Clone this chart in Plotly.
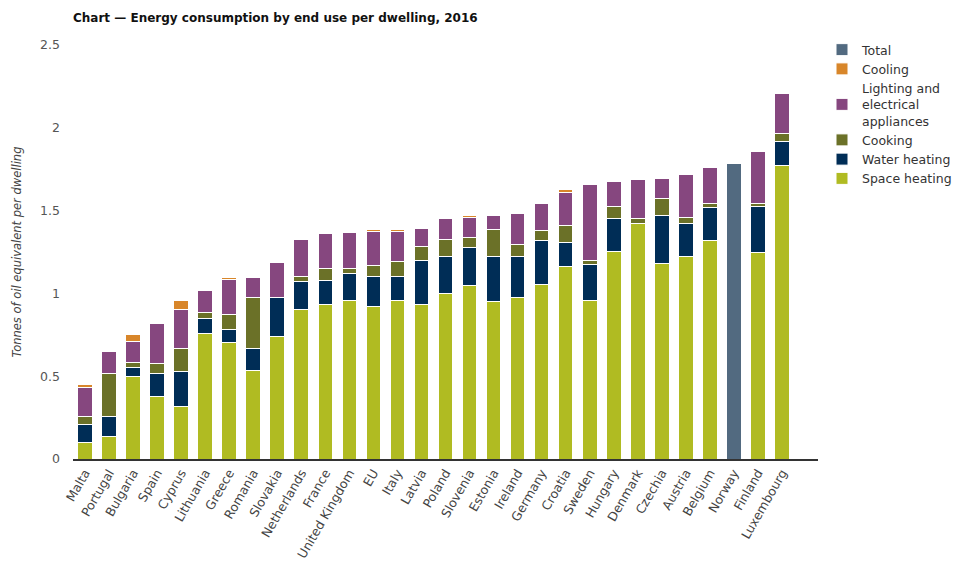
import plotly.graph_objects as go

# Countries, ordered by total consumption per dwelling
countries = [
    "Malta", "Portugal", "Bulgaria", "Spain", "Cyprus", "Lithuania", "Greece",
    "Romania", "Slovakia", "Netherlands", "France", "United Kingdom", "EU",
    "Italy", "Latvia", "Poland", "Slovenia", "Estonia", "Ireland", "Germany",
    "Croatia", "Sweden", "Hungary", "Denmark", "Czechia", "Austria", "Belgium",
    "Norway", "Finland", "Luxembourg",
]

# Tonnes of oil equivalent per dwelling, by end use (Norway only reports a total)
space_heating = [0.10, 0.135, 0.50, 0.38, 0.32, 0.755, 0.705, 0.535, 0.74, 0.90,
                 0.935, 0.955, 0.92, 0.955, 0.935, 1.00, 1.05, 0.95, 0.975, 1.055,
                 1.16, 0.955, 1.255, 1.42, 1.18, 1.22, 1.32, None, 1.245, 1.775]
water_heating = [0.11, 0.12, 0.053, 0.137, 0.21, 0.095, 0.08, 0.133, 0.235, 0.17,
                 0.14, 0.165, 0.18, 0.15, 0.265, 0.22, 0.225, 0.27, 0.245, 0.265,
                 0.15, 0.22, 0.20, 0.005, 0.29, 0.205, 0.20, None, 0.28, 0.14]
cooking = [0.045, 0.26, 0.028, 0.06, 0.135, 0.035, 0.09, 0.306, 0.003, 0.03,
           0.075, 0.03, 0.07, 0.085, 0.085, 0.105, 0.065, 0.165, 0.075, 0.06,
           0.10, 0.025, 0.07, 0.025, 0.105, 0.035, 0.025, None, 0.02, 0.05]
lighting = [0.175, 0.135, 0.127, 0.24, 0.24, 0.135, 0.21, 0.123, 0.21, 0.225,
            0.21, 0.22, 0.205, 0.185, 0.107, 0.125, 0.12, 0.085, 0.19, 0.165,
            0.20, 0.455, 0.15, 0.24, 0.12, 0.26, 0.215, None, 0.31, 0.24]
cooling = [0.02, 0.005, 0.042, 0.01, 0.05, 0.0, 0.01, 0.0, 0.0, 0.005,
           0.0, 0.005, 0.012, 0.012, 0.0, 0.0, 0.01, 0.0, 0.0, 0.0,
           0.015, 0.0, 0.005, 0.0, 0.005, 0.006, 0.0, None, 0.0, 0.0]
total = [None] * 27 + [1.785] + [None] * 2

series = [
    ("Space heating", space_heating, "#B0BB22"),
    ("Water heating", water_heating, "#002D56"),
    ("Cooking", cooking, "#6B7128"),
    ("Lighting and<br>electrical<br>appliances", lighting, "#86477F"),
    ("Cooling", cooling, "#D8862A"),
    ("Total", total, "#526A80"),
]

font_family = "DejaVu Sans, Verdana, sans-serif"

fig = go.Figure()
for name, values, color in series:
    fig.add_trace(go.Bar(
        name=name,
        x=countries,
        y=values,
        marker=dict(color=color, line=dict(color="white", width=1)),
    ))

fig.update_layout(
    width=955,
    height=561,
    barmode="stack",
    bargap=0.39,
    plot_bgcolor="white",
    paper_bgcolor="white",
    margin=dict(l=73, r=137, t=45, b=102, autoexpand=False),
    font=dict(family=font_family, size=11, color="#444"),
    title=dict(
        text="<b>Chart — Energy consumption by end use per dwelling, 2016</b>",
        x=73 / 955, xanchor="left",
        y=1 - 18 / 561, yanchor="middle",
        font=dict(family=font_family, size=12, color="#111"),
    ),
    legend=dict(
        xref="container", yref="container",
        x=822 / 955, y=1 - 35 / 561, xanchor="left", yanchor="top",
        traceorder="reversed",
        font=dict(family=font_family, size=12.5, color="#333"),
        tracegroupgap=0,
        itemwidth=30,
        bgcolor="rgba(0,0,0,0)",
    ),
    xaxis=dict(
        type="category",
        range=[-0.5, 30.5],
        tickangle=-60,
        showline=True,
        linecolor="#333",
        linewidth=1.5,
        showgrid=False,
        ticks="",
        tickfont=dict(family=font_family, size=12.5, color="#444"),
    ),
    yaxis=dict(
        range=[0, 2.5],
        tickvals=[0, 0.5, 1, 1.5, 2, 2.5],
        ticktext=["0", "0.5", "1", "1.5", "2", "2.5"],
        showgrid=False,
        zeroline=False,
        showline=False,
        ticks="",
        ticklabelstandoff=12,
        tickfont=dict(family=font_family, size=12.5, color="#555"),
        title=dict(
            text="<i>Tonnes of oil equivalent per dwelling</i>",
            font=dict(family=font_family, size=11.5, color="#444"),
            standoff=16,
        ),
    ),
)

fig.write_html("out.html")
